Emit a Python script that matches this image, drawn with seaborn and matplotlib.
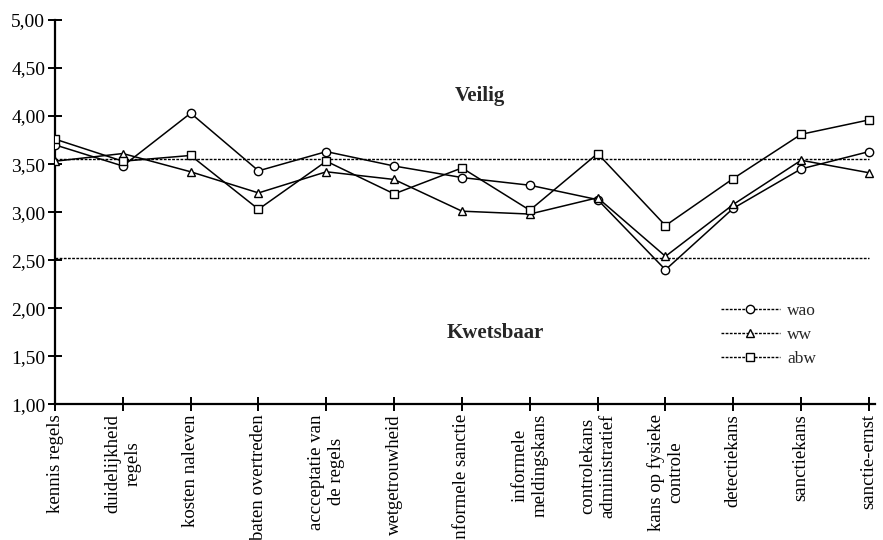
import pandas as pd
import matplotlib
matplotlib.use("Agg")
import matplotlib.pyplot as plt
from matplotlib.lines import Line2D
from matplotlib.ticker import FuncFormatter
import seaborn as sns

# categorieen op de x-as
categories = [
    "kennis regels", "duidelijkheid\nregels", "kosten naleven", "baten overtreden",
    "accceptatie van\nde regels", "wetgetrouwheid", "informele sanctie",
    "informele\nmeldingskans", "controlekans\nadministratief", "kans op fysieke\ncontrole",
    "detectiekans", "sanctiekans", "sanctie-ernst",
]
wao = [3.70, 3.48, 4.03, 3.43, 3.63, 3.48, 3.36, 3.28, 3.13, 2.40, 3.04, 3.45, 3.63]
ww = [3.53, 3.61, 3.42, 3.20, 3.42, 3.34, 3.01, 2.98, 3.15, 2.54, 3.08, 3.54, 3.41]
abw = [3.76, 3.53, 3.59, 3.03, 3.53, 3.19, 3.46, 3.02, 3.61, 2.86, 3.35, 3.81, 3.96]
series_names = ["wao", "ww", "abw"]
grens_veilig = 3.55
grens_kwetsbaar = 2.52

sns.set_style("ticks")
plt.rcParams["font.family"] = ["Liberation Serif", "DejaVu Serif"]

rows = []
for name, vals in zip(series_names, [wao, ww, abw]):
    for i, v in enumerate(vals):
        rows.append({"pos": i, "score": v, "reeks": name})
df = pd.DataFrame(rows)

fig = plt.figure(figsize=(8.83, 5.40), dpi=100)
ax = fig.add_axes([0.0623, 0.2513, 0.9287, 0.7117])

markers = {"wao": "o", "ww": "^", "abw": "s"}
sns.lineplot(data=df, x="pos", y="score", style="reeks", markers=markers, dashes=False,
             color="black", linewidth=1.1, markersize=6, markerfacecolor="white",
             markeredgecolor="black", markeredgewidth=1.0, legend=False, ax=ax, zorder=3)

# grenslijnen
ax.hlines([grens_veilig, grens_kwetsbaar], 0, len(categories) - 1, colors="black",
          linestyles=(0, (2, 1)), linewidth=1.0, zorder=2)

ax.text(6.27, 4.21, "Veilig", fontsize=15, fontweight="bold", ha="center", va="center")
ax.text(6.49, 1.74, "Kwetsbaar", fontsize=15, fontweight="bold", ha="center", va="center")

ax.set_xlim(0, 12.09)
ax.set_ylim(1, 5)
ax.set_yticks([1, 1.5, 2, 2.5, 3, 3.5, 4, 4.5, 5])
ax.yaxis.set_major_formatter(FuncFormatter(lambda v, p: f"{v:.2f}".replace(".", ",")))
ax.set_xticks(range(len(categories)))
ax.set_xticklabels(categories, rotation=90, ha="center", va="top",
                   multialignment="center", fontsize=13.5)
ax.tick_params(axis="both", direction="inout", length=10, width=1.4, colors="black")
ax.tick_params(axis="y", labelsize=14, pad=2)
ax.tick_params(axis="x", pad=2)
ax.set_xlabel("")
ax.set_ylabel("")
sns.despine(ax=ax)
for s in ["left", "bottom"]:
    ax.spines[s].set_linewidth(1.6)
    ax.spines[s].set_color("black")

handles = [Line2D([], [], color="black", linestyle=(0, (2, 1)), linewidth=1.0,
                  marker=markers[n], markersize=6, markerfacecolor="white",
                  markeredgecolor="black") for n in series_names]
ax.legend(handles, series_names, loc="upper left", bbox_to_anchor=(0.793, 0.305),
          frameon=False, fontsize=12.5, handlelength=3.4, handletextpad=0.4,
          labelspacing=0.45)

fig.savefig("out.png", dpi=100)
